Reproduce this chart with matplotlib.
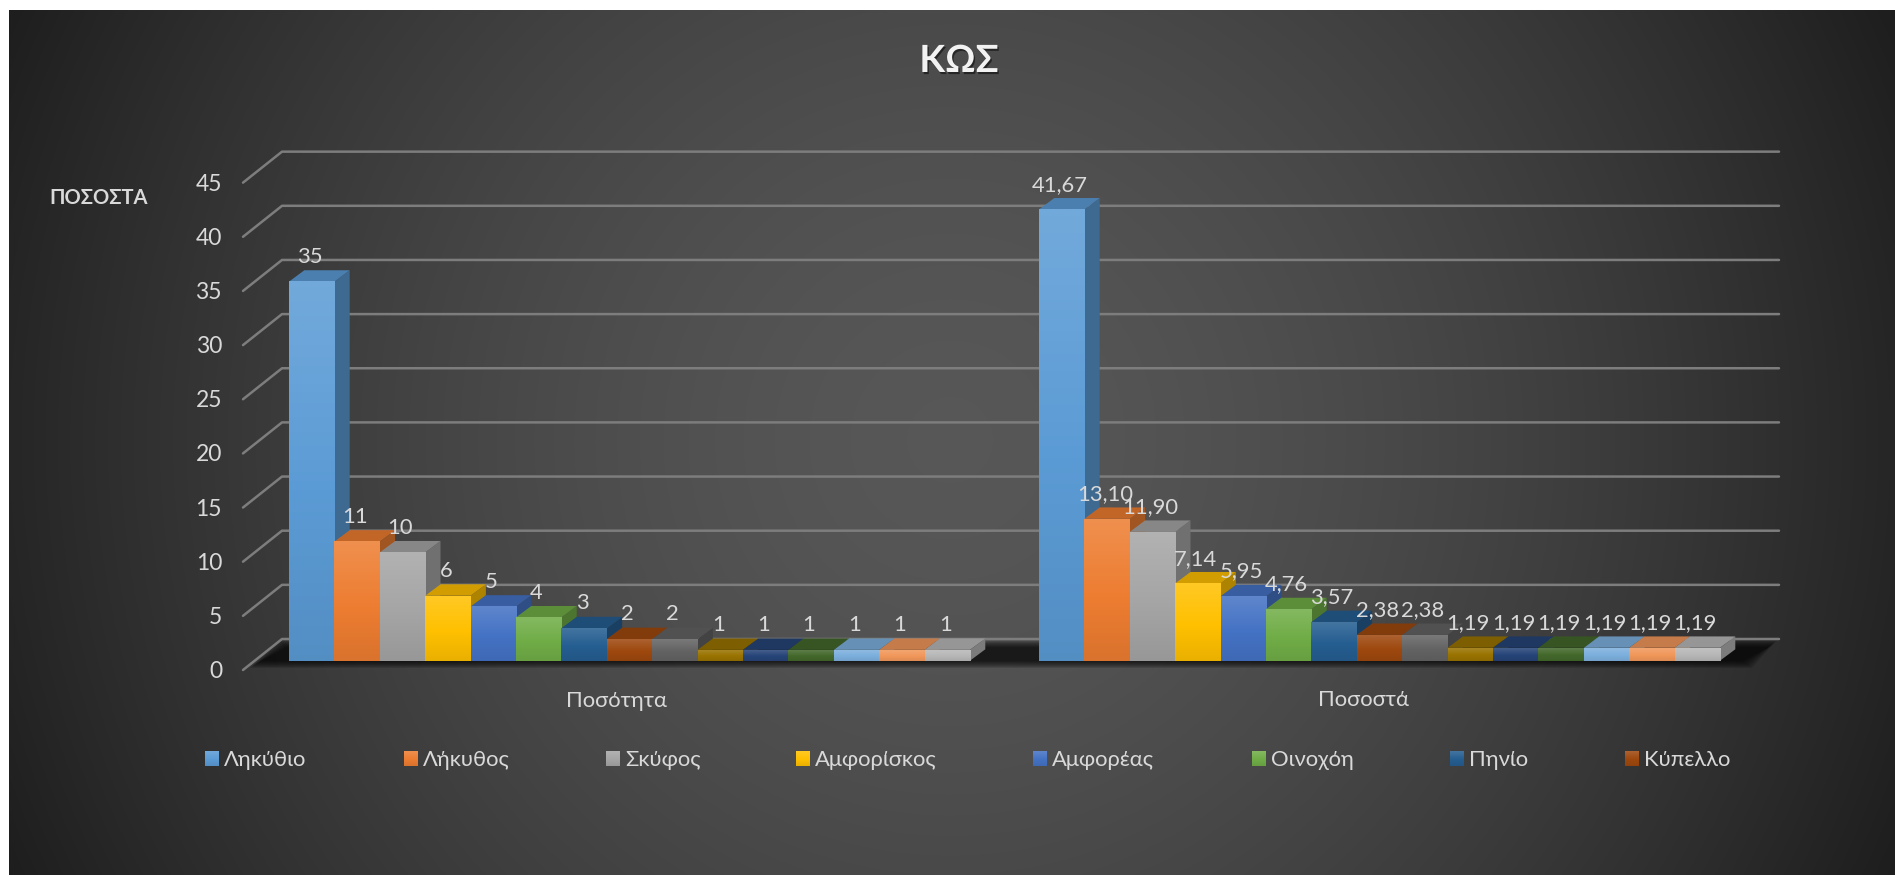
import numpy as np
import matplotlib
matplotlib.use('Agg')
import matplotlib.pyplot as plt
from matplotlib.colors import to_rgb
from matplotlib.patches import Polygon
import matplotlib.patheffects as pe

plt.rcParams['font.family'] = ['Lato', 'Open Sans', 'DejaVu Sans']

categories = ['Ποσότητα', 'Ποσοστά']
quantity = [35, 11, 10, 6, 5, 4, 3, 2, 2, 1, 1, 1, 1, 1, 1]
percent = [41.67, 13.10, 11.90, 7.14, 5.95, 4.76, 3.57, 2.38, 2.38,
           1.19, 1.19, 1.19, 1.19, 1.19, 1.19]
legend_names = ['Ληκύθιο', 'Λήκυθος', 'Σκύφος', 'Αμφορίσκος',
                'Αμφορέας', 'Οινοχόη', 'Πηνίο', 'Κύπελλο']
colors = ['#5B9BD5', '#ED7D31', '#A5A5A5', '#FFC000', '#4472C4', '#70AD47',
          '#255E91', '#9E480E', '#636363', '#997300', '#264478', '#43682B',
          '#7CAFDD', '#F1975A', '#B7B7B7']
yticks = [0, 5, 10, 15, 20, 25, 30, 35, 40, 45]
legend_x = [205, 404, 606, 796, 1033, 1252, 1450, 1625]

W, H = 1895, 875
SLOT = 45.4      # px per bar
UNIT = 10.83     # px per value unit
X0, Y0 = 289, 660.7
GROUP_STEP = 750 / SLOT
DX, DY = 15.3 / SLOT, 11.4 / UNIT  # 3d depth of a bar


def xpx(x):
    return (x - X0) / SLOT


def ypx(y):
    return (Y0 - y) / UNIT


fig = plt.figure(figsize=(W / 100, H / 100), dpi=100, facecolor='white')
ax = fig.add_axes([0, 0, 1, 1])
ax.axis('off')

# background, radial
yy, xx = np.mgrid[0:H, 0:W]
t = np.sqrt((xx - 950) ** 2 + (yy - 440) ** 2) / 950
bg = (0x58 - 0x32 * np.clip(t, 0, 1.1) ** 1.6) / 255
ax.imshow(bg[10:, 9:], cmap='gray', vmin=0, vmax=1, aspect='auto', zorder=0,
          extent=(xpx(9), xpx(W), ypx(H), ypx(10)))

# floor shadow, stacked so the edges go soft
for k in range(8):
    back, front = 641 + k * 0.9, 668 - k * 1.0
    floor = [(xpx(250 + k * 1.5), ypx(front)), (xpx(280 + k), ypx(back)),
             (xpx(1776 - k), ypx(back)), (xpx(1752 - k * 1.5), ypx(front))]
    ax.add_patch(Polygon(floor, closed=True, fc='black', ec='none', alpha=0.13, zorder=1))

# gridlines with the slanted part on the left wall
for v in yticks:
    gx = [xpx(243), xpx(282), xpx(1779)]
    gy = [v + ypx(670), v + ypx(639), v + ypx(639)]
    ax.plot(gx, gy, color='#7d7d7d', lw=1.8, zorder=2, solid_capstyle='round')
    ax.text(xpx(222), v + ypx(671.5), str(v), ha='right', va='center',
            color='#d9d9d9', fontsize=16.5)


def gradient(base):
    c = np.array(to_rgb(base))
    top = c + (1 - c) * 0.14
    bottom = c * 0.92
    s = np.linspace(0, 1, 32)[:, None]
    return np.where(s < 0.55, top + (c - top) * s / 0.55,
                    c + (bottom - c) * (s - 0.55) / 0.45)[:, None, :]


def draw_group(values, offset, labels):
    x = offset + np.arange(len(values))
    bars = ax.bar(x, values, width=1, align='edge', color=colors, zorder=20)
    for i, (b, v) in enumerate(zip(bars, values)):
        z = 10 + i
        b.set_zorder(z + 0.2)
        c = np.array(to_rgb(colors[i]))
        l, r = b.get_x(), b.get_x() + b.get_width()
        ax.add_patch(Polygon([(r, 0), (r + DX, DY), (r + DX, v + DY), (r, v)],
                             fc=c * 0.68, ec='none', zorder=z))
        ax.add_patch(Polygon([(l, v), (r, v), (r + DX, v + DY), (l + DX, v + DY)],
                             fc=c * 0.82, ec='none', zorder=z + 0.1))
        ax.imshow(gradient(colors[i]), extent=(l, r, 0, v), aspect='auto',
                  zorder=z + 0.3, interpolation='bilinear')
        ax.annotate(labels[i], (l + 0.5, v), xytext=(-1.5, 17.8),
                    textcoords='offset points', ha='center', va='center',
                    color='#d9d9d9', fontsize=15.8, zorder=50)


draw_group(quantity, 0, [str(v) for v in quantity])
draw_group(percent, GROUP_STEP, [f'{v:.2f}'.replace('.', ',') for v in percent])

ax.text(xpx(617), ypx(701), categories[0], ha='center', va='center', color='#d9d9d9', fontsize=15.8)
ax.text(xpx(1364), ypx(700), categories[1], ha='center', va='center', color='#d9d9d9', fontsize=15.8)

# legend
for name, lx, col in zip(legend_names, legend_x, colors):
    ax.imshow(gradient(col), extent=(xpx(lx), xpx(lx + 14), ypx(766), ypx(752)),
              aspect='auto', zorder=5, interpolation='bilinear')
    ax.text(xpx(lx + 19), ypx(760), name, ha='left', va='center', color='#d9d9d9', fontsize=15.8)

title = ax.text(xpx(959), ypx(61), 'ΚΩΣ', ha='center', va='center', color='#f2f2f2',
                fontsize=27, fontweight='bold')
title.set_path_effects([pe.withSimplePatchShadow(offset=(1, -1.5), shadow_rgbFace='black', alpha=0.5)])
ax.text(xpx(99), ypx(198), 'ΠΟΣΟΣΤΑ', ha='center', va='center', color='#d9d9d9',
        fontsize=14.5, fontweight='bold')

ax.set_xlim(xpx(0), xpx(W))
ax.set_ylim(ypx(H), ypx(0))
fig.savefig('out.png', dpi=100)
